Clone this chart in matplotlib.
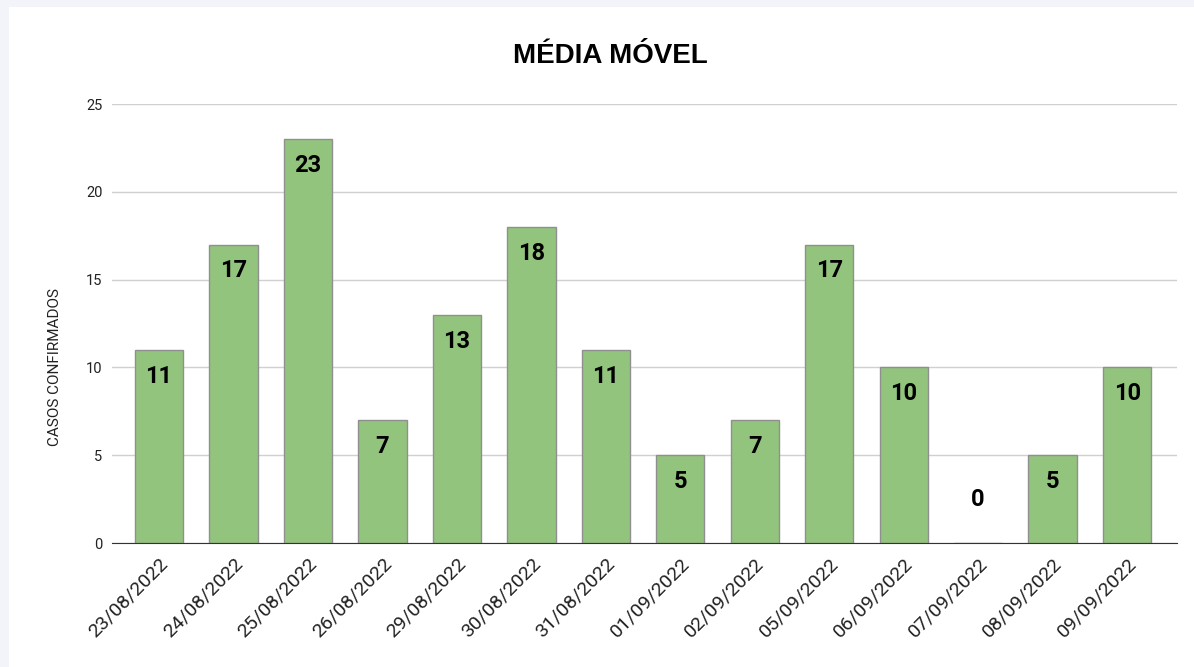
import matplotlib.pyplot as plt
from matplotlib.patches import Rectangle

plt.rcParams['font.family'] = ['Roboto', 'DejaVu Sans']

datas = ['23/08/2022', '24/08/2022', '25/08/2022', '26/08/2022', '29/08/2022',
         '30/08/2022', '31/08/2022', '01/09/2022', '02/09/2022', '05/09/2022',
         '06/09/2022', '07/09/2022', '08/09/2022', '09/09/2022']
casos = [11, 17, 23, 7, 13, 18, 11, 5, 7, 17, 10, 0, 5, 10]
y_ticks = [0, 5, 10, 15, 20, 25]

fig = plt.figure(figsize=(11.94, 6.67), dpi=100, facecolor='#f3f4f9')
# white card behind the chart
fig.patches.append(Rectangle((9 / 1194, 0), 1, 1 - 7 / 667, transform=fig.transFigure,
                             facecolor='white', edgecolor='none', zorder=-5))

ax = fig.add_axes([0.0938, 0.1859, 0.892, 0.6581])
ax.set_zorder(2)
ax.set_facecolor('none')

x = list(range(len(datas)))
ax.bar(x, casos, width=0.65, color='#93c47d', edgecolor='#8f8f8f', linewidth=1, zorder=2)

for xi, v in zip(x, casos):
    if v >= 3:
        ax.text(xi, v - 1.5, str(v), ha='center', va='center',
                fontsize=17, fontweight='bold', color='#000000', zorder=3)
    else:
        ax.text(xi, v + 2.45, str(v), ha='center', va='center',
                fontsize=17, fontweight='bold', color='#000000', zorder=3)

ax.set_xlim(-0.63, 13.67)
ax.set_ylim(0, 25)
ax.set_yticks(y_ticks)
ax.set_yticklabels([str(t) for t in y_ticks], fontsize=10.5, color='#222222')
ax.set_xticks(x)
ax.set_xticklabels(datas, rotation=45, ha='right', rotation_mode='anchor',
                   fontsize=14, color='#222222')
ax.tick_params(axis='both', length=0)
ax.tick_params(axis='y', pad=7)
ax.tick_params(axis='x', pad=8)

ax.grid(axis='y', color='#d0d0d0', linewidth=1, zorder=1)
for side in ['top', 'right', 'left']:
    ax.spines[side].set_visible(False)
ax.spines['bottom'].set_color('#333333')
ax.spines['bottom'].set_zorder(4)

ax.set_ylabel('CASOS CONFIRMADOS', fontsize=11, color='#222222')
ax.yaxis.set_label_coords(-0.047, 0.40)

fig.text(0.511, 0.916, 'MÉDIA MÓVEL', ha='center', va='center',
         fontsize=20, fontweight='bold', color='#000000',
         family=['Liberation Sans', 'DejaVu Sans'])

fig.savefig('out.png', dpi=100, facecolor=fig.get_facecolor())
